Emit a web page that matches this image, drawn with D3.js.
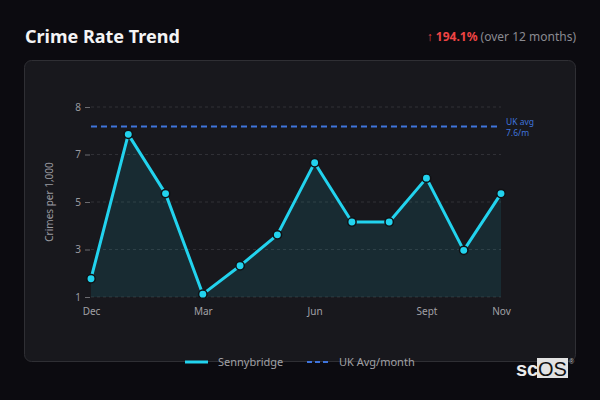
<!DOCTYPE html>
<html>
<head>
<meta charset="utf-8">
<script src="https://cdn.jsdelivr.net/npm/d3@7"></script>
<style>
  body { margin: 0; background: #0c0b10; }
  svg { display: block; font-family: "Noto Sans", sans-serif; }
</style>
</head>
<body>
<div id="chart"></div>
<script>
// data
var months = ["Dec", "Jan", "Feb", "Mar", "Apr", "May", "Jun", "Jul", "Aug", "Sept", "Oct", "Nov"];
var rates = [1.7, 7.3, 5.0, 1.1, 2.2, 3.4, 6.2, 3.9, 3.9, 5.6, 2.8, 5.0];
var ukAvg = 7.6;
var xTickLabels = ["Dec", "Mar", "Jun", "Sept", "Nov"];
var yDomain = [0.99, 8.36];

var width = 600, height = 400;
var cyan = "#22d3ee", blue = "#3f74dc";

var svg = d3.select("#chart").append("svg")
    .attr("width", width)
    .attr("height", height);

svg.append("rect")
    .attr("width", width).attr("height", height)
    .attr("fill", "#0c0b10");

// card
svg.append("rect")
    .attr("x", 24.5).attr("y", 60.5)
    .attr("width", 551).attr("height", 301)
    .attr("rx", 7)
    .attr("fill", "#18181d")
    .attr("stroke", "#2f2f34");

// header
svg.append("text")
    .attr("x", 25).attr("y", 43)
    .attr("fill", "#f4f4f5")
    .attr("font-size", 18).attr("font-weight", "bold")
    .text("Crime Rate Trend");

var change = svg.append("text")
    .attr("x", 576).attr("y", 41)
    .attr("text-anchor", "end")
    .attr("font-size", 12);
change.append("tspan").attr("fill", "#ef4444").text("\u2191 ");
change.append("tspan").attr("fill", "#ef4444").attr("font-weight", "bold").text("194.1%");
change.append("tspan").attr("fill", "#8a8a90").text(" (over 12 months)");

// scales
var x = d3.scalePoint().domain(months).range([91, 501]);
var y = d3.scaleLinear().domain(yDomain).range([297, 107]);
var yTicks = d3.range(5).map(function(i) {
    return yDomain[0] + i * (yDomain[1] - yDomain[0]) / 4;
});

// grid
svg.append("g").selectAll("line")
    .data(yTicks)
    .enter().append("line")
    .attr("x1", 91).attr("x2", 501)
    .attr("y1", function(d) { return y(d); })
    .attr("y2", function(d) { return y(d); })
    .attr("stroke", "#303036")
    .attr("stroke-dasharray", "3,3");

// y axis
var yAxis = svg.append("g")
    .attr("transform", "translate(91,0)")
    .call(d3.axisLeft(y).tickValues(yTicks).tickFormat(d3.format(".0f")).tickSize(5).tickPadding(5));
yAxis.select(".domain").remove();
yAxis.selectAll("line").attr("stroke", "#6b6b70").attr("transform", "translate(-1,0)");
yAxis.selectAll("text").attr("fill", "#9a9aa0").attr("font-size", 10).attr("font-family", "Noto Sans");

// x axis
var xAxis = svg.append("g")
    .attr("transform", "translate(0,297)")
    .call(d3.axisBottom(x).tickValues(xTickLabels).tickSize(0).tickPadding(11));
xAxis.select(".domain").remove();
xAxis.selectAll("text").attr("fill", "#a1a1a6").attr("font-size", 10).attr("font-family", "Noto Sans");

svg.append("text")
    .attr("transform", "translate(53,202) rotate(-90)")
    .attr("text-anchor", "middle")
    .attr("fill", "#9a9aa0")
    .attr("font-size", 10)
    .text("Crimes per 1,000");

// area + line
var area = d3.area()
    .x(function(d, i) { return x(months[i]); })
    .y0(y(yDomain[0]))
    .y1(function(d) { return y(d); });
svg.append("path")
    .datum(rates)
    .attr("d", area)
    .attr("fill", cyan)
    .attr("fill-opacity", 0.1);

var line = d3.line()
    .x(function(d, i) { return x(months[i]); })
    .y(function(d) { return y(d); });

// UK average
svg.append("line")
    .attr("x1", 91).attr("x2", 501)
    .attr("y1", y(ukAvg)).attr("y2", y(ukAvg))
    .attr("stroke", blue)
    .attr("stroke-width", 2)
    .attr("stroke-dasharray", "6,4");
svg.append("text")
    .attr("x", 506).attr("y", y(ukAvg) - 1.5)
    .attr("fill", blue).attr("font-size", 8.5)
    .text("UK avg");
svg.append("text")
    .attr("x", 506).attr("y", y(ukAvg) + 9.5)
    .attr("fill", blue).attr("font-size", 8.5)
    .text(ukAvg + "/m");

svg.append("path")
    .datum(rates)
    .attr("d", line)
    .attr("fill", "none")
    .attr("stroke", cyan)
    .attr("stroke-width", 3)
    .attr("stroke-linejoin", "round");

svg.append("g").selectAll("circle")
    .data(rates)
    .enter().append("circle")
    .attr("cx", function(d, i) { return x(months[i]); })
    .attr("cy", function(d) { return y(d); })
    .attr("r", 4.2)
    .attr("fill", cyan)
    .attr("stroke", "#101114")
    .attr("stroke-width", 1.5);

// legend
var legend = svg.append("g");
legend.append("line")
    .attr("x1", 185).attr("x2", 208).attr("y1", 362).attr("y2", 362)
    .attr("stroke", cyan).attr("stroke-width", 3);
legend.append("text")
    .attr("x", 218).attr("y", 362).attr("dy", "0.35em")
    .attr("fill", "#a1a1a6").attr("font-size", 11)
    .text("Sennybridge");
legend.append("line")
    .attr("x1", 307).attr("x2", 331).attr("y1", 362).attr("y2", 362)
    .attr("stroke", blue).attr("stroke-width", 2)
    .attr("stroke-dasharray", "5,3");
legend.append("text")
    .attr("x", 339).attr("y", 362).attr("dy", "0.35em")
    .attr("fill", "#a1a1a6").attr("font-size", 11)
    .text("UK Avg/month");

// logo
var logo = svg.append("g").attr("font-family", "Liberation Sans, Arial, sans-serif");
logo.append("text")
    .attr("x", 516).attr("y", 376)
    .attr("fill", "#ececec").attr("font-size", 20).attr("font-weight", "bold")
    .text("sc");
logo.append("rect")
    .attr("x", 537).attr("y", 358).attr("width", 31).attr("height", 20)
    .attr("fill", "#e2e2e2");
logo.append("text")
    .attr("x", 538).attr("y", 376)
    .attr("fill", "#111").attr("font-size", 20)
    .text("OS");
logo.append("text")
    .attr("x", 569).attr("y", 364)
    .attr("fill", "#bbb").attr("font-size", 7)
    .text("\u00ae");
</script>
</body>
</html>
